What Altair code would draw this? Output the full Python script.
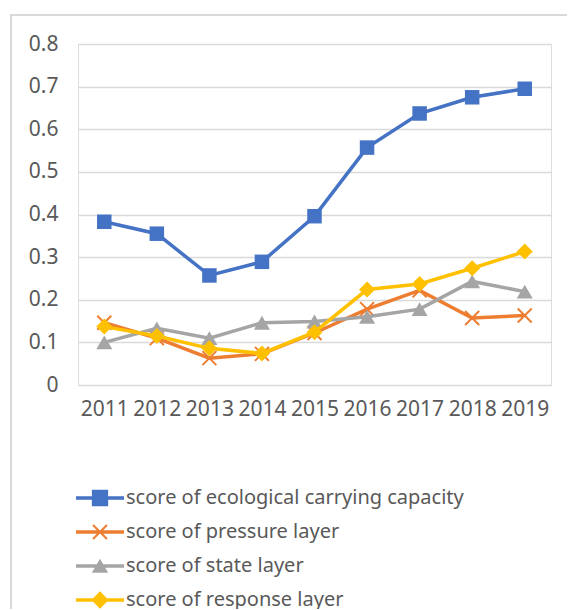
import altair as alt
import pandas as pd

years = ["2011", "2012", "2013", "2014", "2015", "2016", "2017", "2018", "2019"]
series_names = [
    "\u00a0score of ecological carrying capacity",
    "score of pressure layer",
    "score of state layer",
    "score of response layer",
]
ecological = [0.383, 0.355, 0.257, 0.289, 0.396, 0.557, 0.637, 0.675, 0.695]
pressure = [0.146, 0.110, 0.063, 0.073, 0.122, 0.178, 0.222, 0.157, 0.163]
state = [0.100, 0.133, 0.110, 0.146, 0.149, 0.160, 0.178, 0.243, 0.219]
response = [0.137, 0.115, 0.086, 0.074, 0.124, 0.224, 0.237, 0.274, 0.313]
y_ticks = [0, 0.1, 0.2, 0.3, 0.4, 0.5, 0.6, 0.7, 0.8]

colors = ["#4472C4", "#ED7D31", "#A5A5A5", "#FFC000"]
values = [ecological, pressure, state, response]

rows = []
for name, vals in zip(series_names, values):
    for yr, v in zip(years, vals):
        rows.append({"year": yr, "score": v, "series": name})
df = pd.DataFrame(rows)

W, H = 473, 341
PAD_R = 16
FONT = "Noto Sans"
TXT = "#595959"

x_enc = alt.X("year:O", sort=years, scale=alt.Scale(type="point", padding=0.5),
              axis=alt.Axis(title=None, labelAngle=0, labelFontSize=21, labelFont=FONT,
                            labelColor=TXT, labelPadding=13, ticks=False, tickSize=0,
                            domain=False, grid=False))
y_enc = alt.Y("score:Q", scale=alt.Scale(domain=[0, 0.8], nice=False, zero=True),
              axis=alt.Axis(title=None, values=y_ticks, labelFontSize=21, labelFont=FONT,
                            labelColor=TXT, labelPadding=20, ticks=False, tickSize=0,
                            domain=False, grid=True, gridColor="#D9D9D9", gridWidth=1.5,
                            labelExpr="datum.value == 0 ? '0' : format(datum.value, '.1f')"))

base = alt.Chart(df)

marker_props = [
    dict(shape="square", filled=True, size=210),
    dict(shape="M-1,-1L1,1M-1,1L1,-1", filled=False, size=196, strokeWidth=2),
    dict(shape="triangle-up", filled=True, size=256),
    dict(shape="diamond", filled=True, size=256),
]

layers = []
for name, col, mp in zip(series_names, colors, marker_props):
    sub = base.transform_filter(alt.datum.series == name)
    layers.append(sub.mark_line(color=col, strokeWidth=3.5).encode(x=x_enc, y=y_enc))
    layers.append(sub.mark_point(color=col, opacity=1, **mp).encode(x=x_enc, y=y_enc))

line_rect = "M-1,-0.075H1V0.075H-1Z"
legend_shapes = [
    line_rect + "M-0.34,-0.34H0.34V0.34H-0.34Z",
    line_rect + "M-0.26,-0.32L0.32,0.26L0.26,0.32L-0.32,-0.26Z"
              + "M-0.32,0.26L0.26,-0.32L0.32,-0.26L-0.26,0.32Z",
    line_rect + "M0,-0.3L0.34,0.28L-0.34,0.28Z",
    line_rect + "M0,-0.36L0.36,0L0,0.36L-0.36,0Z",
]

# legend-only layer: its points sit far outside the drawing, only the legend shows
legend_layer = base.mark_point(filled=True, size=2304, opacity=1).encode(
    x=alt.value(-3000), y=alt.value(-3000),
    color=alt.Color("series:N", scale=alt.Scale(domain=series_names, range=colors),
                    legend=alt.Legend(orient="none", legendX=-2, legendY=430, title=None,
                                      direction="vertical", labelFontSize=20, labelFont=FONT,
                                      labelColor=TXT, labelOffset=2, rowPadding=-1,
                                      labelLimit=0,
                                      symbolSize=2304, symbolOpacity=1, symbolStrokeWidth=0)),
    shape=alt.Shape("series:N", scale=alt.Scale(domain=series_names, range=legend_shapes)),
)

# chart-area frame (only its left and top edges are inside the picture)
frame_df = pd.DataFrame({"k": [0]})
frame = alt.Chart(frame_df).mark_rect(fillOpacity=0, stroke="#D9D9D9", strokeWidth=2).encode(
    x=alt.value(-67), x2=alt.value(W + 300), y=alt.value(-29), y2=alt.value(H + 400))

chart = alt.layer(frame, *layers, legend_layer).properties(
    width=W, height=H,
    autosize=alt.AutoSizeParams(type="none"),
    padding={"left": 70, "top": 36, "right": PAD_R, "bottom": 224},
).configure_view(stroke=None).configure(background="transparent")

chart.save("out.html", embed_options={"renderer": "svg", "actions": False})
